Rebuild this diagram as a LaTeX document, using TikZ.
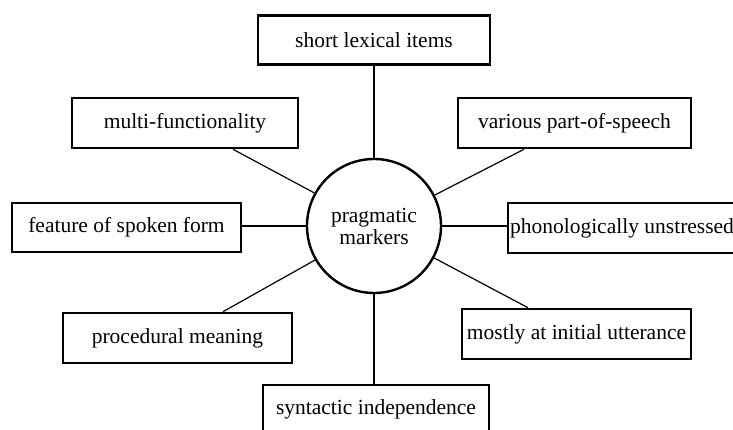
\documentclass[tikz,border=0pt]{standalone}
\usepackage{fontspec}
\setmainfont{Liberation Serif}
\begin{document}
\begin{tikzpicture}[x=1pt,y=1pt,
  box/.style={draw=black,line width=2.6pt,fill=white,inner sep=0pt,minimum height=49pt,
    font=\fontsize{21.5}{22}\selectfont},
  hub/.style={draw=black,line width=2.4pt,circle,minimum size=134pt,inner sep=0pt,align=center,
    font=\fontsize{21.5}{22}\selectfont},
  conn/.style={line width=1.2pt}]
\useasboundingbox (0,0) rectangle (733,430);
\node[hub] (c) at (374,204) {pragmatic\\markers};
\node[box,minimum width=232pt] (short) at (374,390) {short lexical items};
\node[box,minimum width=226pt,minimum height=50pt] (multi) at (185,307) {multi-functionality};
\node[box,minimum width=233pt,minimum height=50pt] (various) at (574.5,307) {various part-of-speech};
\node[box,minimum width=229pt] (feature) at (126.5,202.5) {feature of spoken form};
\node[box,minimum width=228pt,minimum height=50pt] (phono) at (622,202) {phonologically unstressed};
\node[box,minimum width=229pt,minimum height=50pt] (proc) at (177.5,92) {procedural meaning};
\node[box,minimum width=229pt,minimum height=50pt] (mostly) at (576.5,96) {mostly at initial utterance};
\node[box,minimum width=226pt,minimum height=48pt] (synt) at (376,21) {syntactic independence};
\draw[conn] (c.north) -- (c.north |- short.south);
\draw[conn] (c.south) -- (c.south |- synt.north);
\draw[conn] (c.west) -- (c.west -| feature.east);
\draw[conn] (c.east) -- (c.east -| phono.west);
\draw[conn] (c.151) -- ([xshift=48pt]multi.south);
\draw[conn] (c.27.5) -- ([xshift=-50.5pt]various.south);
\draw[conn] (c.210) -- ([xshift=45.5pt]proc.north);
\draw[conn] (c.-28.3) -- ([xshift=-48.5pt]mostly.north);
\end{tikzpicture}
\end{document}
